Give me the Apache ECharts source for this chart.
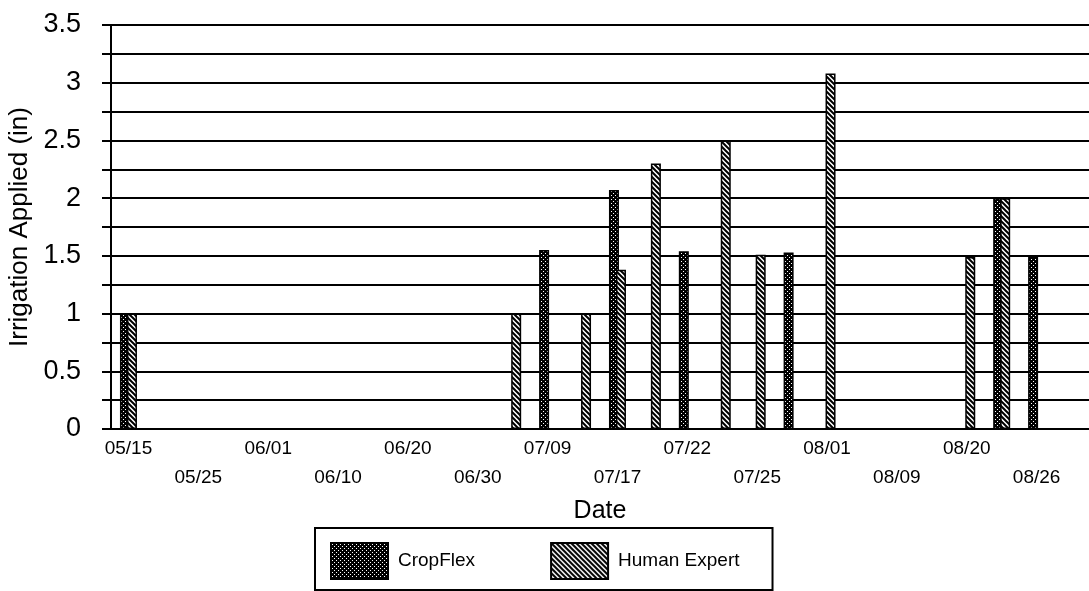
<!DOCTYPE html>
<html>
<head>
<meta charset="utf-8">
<script src="https://cdn.jsdelivr.net/npm/echarts@6/dist/echarts.min.js"></script>
<style>
html,body{margin:0;padding:0;background:#fff;}
#chart{width:1089px;height:591px;}
</style>
</head>
<body>
<div id="chart"></div>
<script>
// Dates of the category axis (every other one is labelled)
const categories = ['05/15','05/20','05/25','05/28','06/01','06/05','06/10','06/15','06/20','06/25','06/30','07/05','07/09','07/13','07/17','07/19','07/22','07/23','07/25','07/28','08/01','08/05','08/09','08/15','08/20','08/23','08/26','08/30'];
// Irrigation applied (in)
const cropFlex    = [1.0,null,null,null,null,null,null,null,null,null,null,null,1.55,null,2.07,null,1.54,null,null,1.53,null,null,null,null,null,2.0,1.49,null];
const humanExpert = [1.0,null,null,null,null,null,null,null,null,null,null,1.0,null,1.0,1.38,2.30,null,2.50,1.51,null,3.08,null,null,null,1.49,2.0,null,null];
const seriesNames = ['CropFlex','Human Expert'];
const yTickLabels = ['0','0.5','1','1.5','2','2.5','3','3.5'];

function dotPattern(){
  const c = document.createElement('canvas'); c.width = 4; c.height = 4;
  const g = c.getContext('2d');
  g.fillStyle = '#000'; g.fillRect(0,0,4,4);
  g.fillStyle = '#fff'; g.fillRect(1,1,1,1); g.fillRect(3,3,1,1);
  return c;
}
function hatchPattern(){
  const n = 5;
  const c = document.createElement('canvas'); c.width = n; c.height = n;
  const g = c.getContext('2d');
  g.fillStyle = '#fff'; g.fillRect(0,0,n,n);
  g.strokeStyle = '#000'; g.lineWidth = 2; g.lineCap = 'square';
  for (let k=-1;k<=1;k++){
    g.beginPath(); g.moveTo(k*n-1,-1); g.lineTo(k*n+n+1,n+1); g.stroke();
  }
  return c;
}

const FONT = "'Liberation Sans', Arial, Helvetica, sans-serif";
const chart = echarts.init(document.getElementById('chart'), null, {renderer:'canvas'});
chart.setOption({
  animation:false,
  backgroundColor:'#fff',
  textStyle:{fontFamily:FONT,color:'#000'},
  grid:{left:111,right:0,top:25,bottom:162,containLabel:false,outerBoundsMode:'none'},
  legend:{
    data:seriesNames,
    left:315, top:528, orient:'horizontal',
    itemWidth:57, itemHeight:36, itemGap:75,
    padding:[14,33,10,15],
    borderColor:'#000', borderWidth:2,
    icon:'rect',
    textStyle:{fontFamily:FONT,fontSize:19,color:'#000',padding:[0,0,0,5]}
  },
  xAxis:{
    type:'category',
    data:categories,
    name:'Date', nameLocation:'middle', nameGap:70,
    nameTextStyle:{fontFamily:FONT,fontSize:25,color:'#000'},
    axisLine:{show:true,lineStyle:{color:'#000',width:2}},
    axisTick:{show:false},
    axisLabel:{
      interval:1, margin:5, fontFamily:FONT, fontSize:19, color:'#000', lineHeight:29,
      formatter:function(v, i){ return (i % 4 === 2) ? '\n' + v : v; }
    },
    splitLine:{show:false}
  },
  yAxis:{
    type:'value', min:0, max:3.5, interval:0.25,
    name:'Irrigation Applied (in)', nameLocation:'middle', nameGap:72,
    nameTextStyle:{fontFamily:FONT,fontSize:26,color:'#000'},
    axisLine:{show:true,lineStyle:{color:'#000',width:2}},
    axisTick:{show:true,length:9,lineStyle:{color:'#000',width:2}},
    axisLabel:{
      margin:30, fontFamily:FONT, fontSize:27, color:'#000',
      formatter:function(v){ const s = String(v); return yTickLabels.indexOf(s) >= 0 ? s : ''; }
    },
    splitLine:{show:true,lineStyle:{color:'#000',width:2}}
  },
  series:[
    {name:seriesNames[0], type:'bar', data:cropFlex, barWidth:10, barGap:'-30%',
     itemStyle:{color:{image:dotPattern(),repeat:'repeat'},borderColor:'#000',borderWidth:1.5}},
    {name:seriesNames[1], type:'bar', data:humanExpert, barWidth:10, barGap:'-30%',
     itemStyle:{color:{image:hatchPattern(),repeat:'repeat'},borderColor:'#000',borderWidth:1.5}}
  ]
});
</script>
</body>
</html>
